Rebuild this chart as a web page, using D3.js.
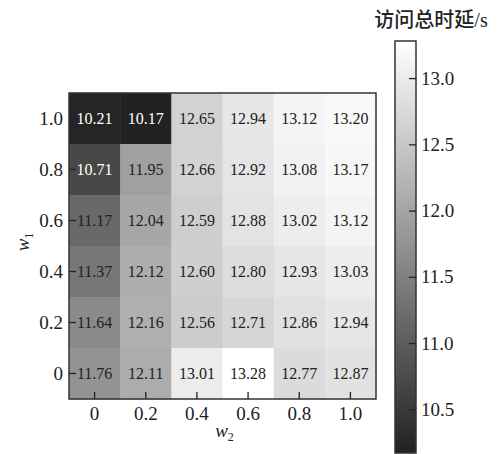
<!DOCTYPE html>
<html>
<head>
<meta charset="utf-8">
<script src="https://cdn.jsdelivr.net/npm/d3@7"></script>
<style>
  html, body { margin: 0; padding: 0; background: #fff; }
  svg { display: block; }
  svg text { font-family: "Liberation Serif", "Noto Sans CJK SC", serif !important; }
</style>
</head>
<body>
<svg id="chart" width="498" height="454"></svg>
<script>
// Weights along each axis
const w2Values = ["0", "0.2", "0.4", "0.6", "0.8", "1.0"];
const w1Values = ["1.0", "0.8", "0.6", "0.4", "0.2", "0"];   // top row first

// Total access delay (s), one row per w1 value (top to bottom)
const row10 = [10.21, 10.17, 12.65, 12.94, 13.12, 13.20];
const row08 = [10.71, 11.95, 12.66, 12.92, 13.08, 13.17];
const row06 = [11.17, 12.04, 12.59, 12.88, 13.02, 13.12];
const row04 = [11.37, 12.12, 12.60, 12.80, 12.93, 13.03];
const row02 = [11.64, 12.16, 12.56, 12.71, 12.86, 12.94];
const row00 = [11.76, 12.11, 13.01, 13.28, 12.77, 12.87];
const delayRows = [row10, row08, row06, row04, row02, row00];

const colorbarTicks = [10.5, 11.0, 11.5, 12.0, 12.5, 13.0];
const colorbarTitle = "访问总时延/s";

const cells = [];
delayRows.forEach((row, i) => row.forEach((v, j) => cells.push({ w1: w1Values[i], w2: w2Values[j], value: v })));

const vMin = d3.min(cells, d => d.value);
const vMax = d3.max(cells, d => d.value);

const svg = d3.select("#chart");
const plot = { left: 69, right: 376, top: 93, bottom: 399 };

const x = d3.scaleBand().domain(w2Values).range([plot.left, plot.right]);
const y = d3.scaleBand().domain(w1Values).range([plot.top, plot.bottom]);
const color = d3.scaleLinear().domain([vMin, vMax]).range(["#222222", "#ffffff"]).interpolate(d3.interpolateRgb);

// Heatmap cells
svg.append("g").selectAll("rect").data(cells).join("rect")
  .attr("x", d => x(d.w2))
  .attr("y", d => y(d.w1))
  .attr("width", x.bandwidth() + 0.5)
  .attr("height", y.bandwidth() + 0.5)
  .attr("fill", d => color(d.value));

// Cell annotations
svg.append("g").selectAll("text").data(cells).join("text")
  .attr("x", d => x(d.w2) + x.bandwidth() / 2)
  .attr("y", d => y(d.w1) + y.bandwidth() / 2)
  .attr("dy", "0.35em")
  .attr("text-anchor", "middle")
  .attr("font-size", 16)
  .attr("fill", d => d.value < 11 ? "#ffffff" : "#222222")
  .text(d => d.value.toFixed(2));

// Axes with inward ticks
const xAxis = svg.append("g")
  .attr("transform", `translate(0,${plot.bottom})`)
  .call(d3.axisBottom(x).tickSize(-7).tickPadding(8));
const yAxis = svg.append("g")
  .attr("transform", `translate(${plot.left},0)`)
  .call(d3.axisLeft(y).tickSize(-7).tickPadding(6));
[xAxis, yAxis].forEach(g => {
  g.select(".domain").remove();
  g.selectAll(".tick line").attr("stroke", "#222").attr("stroke-width", 1.3);
  g.selectAll(".tick text").attr("font-size", 19).attr("fill", "#222");
});

// Plot frame
svg.append("rect")
  .attr("x", plot.left).attr("y", plot.top)
  .attr("width", plot.right - plot.left).attr("height", plot.bottom - plot.top)
  .attr("fill", "none").attr("stroke", "#333").attr("stroke-width", 1.5);

// Axis titles
const w2Label = svg.append("text")
  .attr("x", (plot.left + plot.right) / 2 + 2).attr("y", 437)
  .attr("text-anchor", "middle").attr("font-size", 19).attr("fill", "#222");
w2Label.append("tspan").attr("font-style", "italic").text("w");
w2Label.append("tspan").attr("font-size", 12).attr("dy", 4).text("2");

const w1Label = svg.append("text")
  .attr("transform", `translate(29,${(plot.top + plot.bottom) / 2 - 4}) rotate(-90)`)
  .attr("text-anchor", "middle").attr("font-size", 19).attr("fill", "#222");
w1Label.append("tspan").attr("font-style", "italic").text("w");
w1Label.append("tspan").attr("font-size", 12).attr("dy", 4).text("1");

// Colour bar
const cb = { left: 395, right: 416, top: 41, bottom: 453 };
const cbScale = d3.scaleLinear().domain([vMin, vMax]).range([cb.bottom, cb.top]);
const grad = svg.append("defs").append("linearGradient")
  .attr("id", "cbGrad").attr("x1", 0).attr("y1", 1).attr("x2", 0).attr("y2", 0);
d3.range(0, 1.0001, 0.1).forEach(t => {
  grad.append("stop").attr("offset", t).attr("stop-color", color(vMin + t * (vMax - vMin)));
});
svg.append("rect")
  .attr("x", cb.left).attr("y", cb.top)
  .attr("width", cb.right - cb.left).attr("height", cb.bottom - cb.top)
  .attr("fill", "url(#cbGrad)").attr("stroke", "#333").attr("stroke-width", 1.5);

const cbAxis = svg.append("g")
  .attr("transform", `translate(${cb.right},0)`)
  .call(d3.axisRight(cbScale).tickValues(colorbarTicks).tickFormat(d3.format(".1f")).tickSize(-7).tickPadding(5));
cbAxis.select(".domain").remove();
cbAxis.selectAll(".tick line").attr("stroke", "#222").attr("stroke-width", 1.3);
cbAxis.selectAll(".tick text").attr("font-size", 19).attr("fill", "#222");

svg.append("text")
  .attr("x", 431).attr("y", 27)
  .attr("text-anchor", "middle").attr("font-size", 20).attr("fill", "#222")
  .attr("font-weight", 500)
  .text(colorbarTitle);
</script>
</body>
</html>
